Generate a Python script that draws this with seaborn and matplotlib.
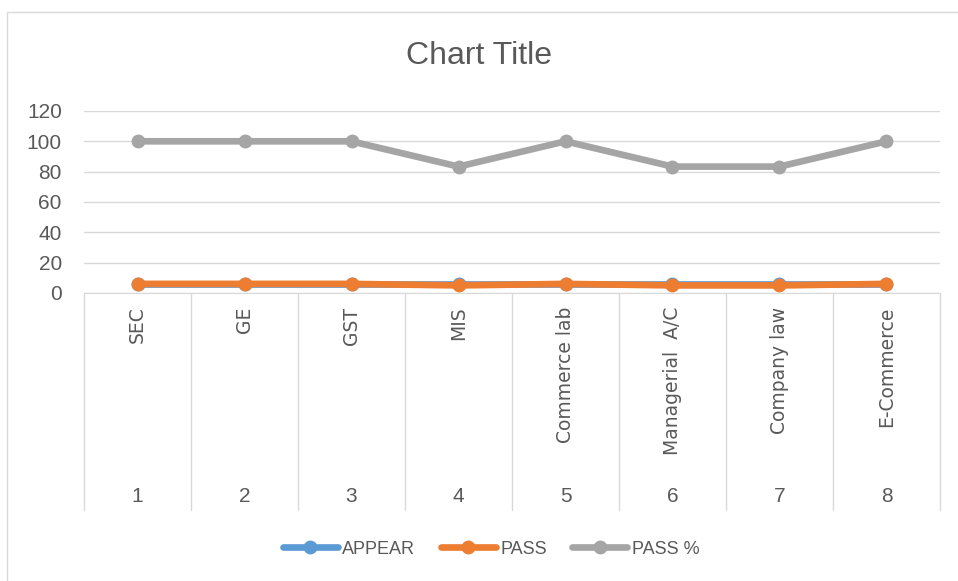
import pandas as pd
import matplotlib.pyplot as plt
import matplotlib.transforms as mtransforms
from matplotlib.lines import Line2D
from matplotlib.patches import Rectangle
import seaborn as sns

# Données du graphique
subjects = ["SEC", "GE", "GST", "MIS", "Commerce lab", "Managerial  A/C", "Company law", "E-Commerce"]
numbers = ["1", "2", "3", "4", "5", "6", "7", "8"]
appear = [6, 6, 6, 6, 6, 6, 6, 6]
passed = [6, 6, 6, 5, 6, 5, 5, 6]
pass_pct = [100, 100, 100, 83.33, 100, 83.33, 83.33, 100]
series_names = ["APPEAR", "PASS", "PASS %"]
colors = ["#5B9BD5", "#ED7D31", "#A5A5A5"]

rows = []
for name, vals in zip(series_names, [appear, passed, pass_pct]):
    for i, v in enumerate(vals):
        rows.append({"idx": i, "value": v, "series": name})
df = pd.DataFrame(rows)

sns.set_style("white")
plt.rcParams['font.family'] = ['Liberation Sans', 'DejaVu Sans']
txt = "#595959"
lw = 4.8
ms = 10

fig = plt.figure(figsize=(9.58, 5.81), dpi=100)
ax = fig.add_axes([0.0877, 0.4957, 0.8935, 0.3133])

sns.lineplot(data=df, x="idx", y="value", hue="series", hue_order=series_names,
             palette=colors, marker="o", markersize=ms, markeredgewidth=0,
             linewidth=lw, legend=False, ax=ax)

ax.set_xlim(-0.5, len(subjects) - 0.5)
ax.set_ylim(0, 120)
ax.set_yticks(range(0, 121, 20))
ax.yaxis.grid(True, color="#D9D9D9", linewidth=1)
ax.set_axisbelow(True)
for s in ["top", "right", "left"]:
    ax.spines[s].set_visible(False)
ax.spines["bottom"].set_color("#D9D9D9")
ax.tick_params(axis="y", length=0, labelsize=15, labelcolor=txt, pad=16)
ax.set_xticks([])
ax.set_xlabel("")
ax.set_ylabel("")

# Axe à deux niveaux (style Excel)
trans = mtransforms.blended_transform_factory(ax.transData, ax.transAxes)
bottom = -1.192
for b in range(len(subjects) + 1):
    ax.plot([b - 0.5, b - 0.5], [0, bottom], transform=trans, color="#D9D9D9",
            linewidth=1, clip_on=False)
for i, (s, n) in enumerate(zip(subjects, numbers)):
    ax.text(i, -0.075, s, transform=trans, rotation=90, ha="center", va="top",
            fontsize=13.5, color=txt, family="DejaVu Sans")
    ax.text(i, -1.12, n, transform=trans, ha="center", va="center",
            fontsize=15, color=txt)

fig.text(0.5, 0.903, "Chart Title", ha="center", va="center", fontsize=23, color=txt)

handles = [Line2D([0], [0], color=c, linewidth=lw, marker="o", markersize=ms,
                  markeredgewidth=0) for c in colors]
fig.legend(handles, series_names, loc="center", bbox_to_anchor=(0.5125, 0.055), ncol=3,
           frameon=False, fontsize=13, labelcolor=txt, handlelength=3.05,
           handletextpad=0.25, columnspacing=1.4)

fig.patches.append(Rectangle((7 / 958, -0.1), 1.2, 1 - 12 / 581 + 0.1,
                             transform=fig.transFigure, fill=False,
                             edgecolor="#D9D9D9", linewidth=1))

fig.savefig("out.png", dpi=100)
